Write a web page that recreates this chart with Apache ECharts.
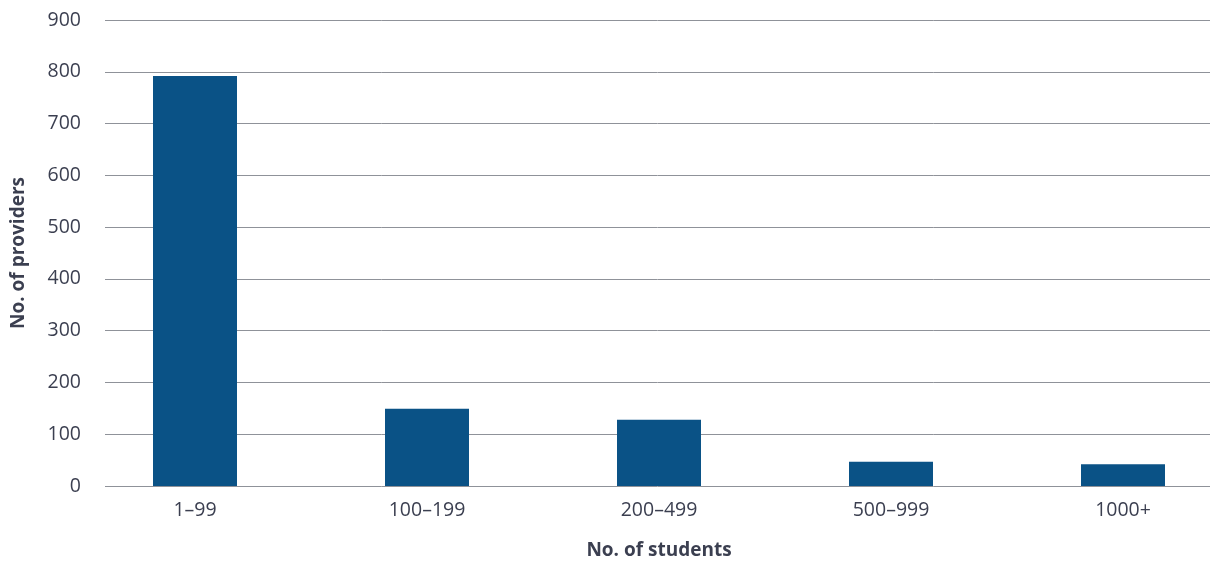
<!DOCTYPE html>
<html>
<head>
<meta charset="utf-8">
<script src="https://cdn.jsdelivr.net/npm/echarts@6/dist/echarts.min.js"></script>
<style>
  html, body { margin: 0; padding: 0; background: #ffffff; }
  #chart { width: 1210px; height: 563px; }
</style>
</head>
<body>
<div id="chart"></div>
<script>
// Providers grouped by number of enrolled students
const categories = ['1–99', '100–199', '200–499', '500–999', '1000+'];
const providers = [792, 149, 128, 47, 42];
const yTicks = { min: 0, max: 900, interval: 100 };

const textColor = '#3b3f50';
const fontFamily = '"Open Sans", sans-serif';

const chart = echarts.init(document.getElementById('chart'));
chart.setOption({
  animation: false,
  grid: [
    // bars and category labels (bands run a little past the right edge)
    { left: 79, width: 1160, top: 20, bottom: 77, outerBoundsMode: 'none' },
    // gridlines and value labels
    { left: 105, right: 0, top: 20, bottom: 77, outerBoundsMode: 'none' }
  ],
  xAxis: [
    {
      type: 'category',
      gridIndex: 0,
      data: categories,
      axisLine: { show: false },
      axisTick: { show: false },
      axisLabel: { color: textColor, fontSize: 19.5, fontFamily, margin: 14 },
      name: 'No. of students',
      nameLocation: 'middle',
      nameGap: 55,
      nameMoveOverlap: false,
      nameTextStyle: { color: textColor, fontSize: 19, fontWeight: 700, fontFamily }
    },
    {
      type: 'value',
      gridIndex: 1,
      show: false
    }
  ],
  yAxis: [
    {
      type: 'value',
      gridIndex: 0,
      min: yTicks.min, max: yTicks.max, interval: yTicks.interval,
      axisLine: { show: false },
      axisTick: { show: false },
      axisLabel: { show: false },
      splitLine: { show: false }
    },
    {
      type: 'value',
      gridIndex: 1,
      min: yTicks.min, max: yTicks.max, interval: yTicks.interval,
      axisLine: { show: false },
      axisTick: { show: false },
      axisLabel: { color: textColor, fontSize: 19.5, fontFamily, margin: 24 },
      splitLine: { lineStyle: { color: '#8f9299', width: 1 } },
      name: 'No. of providers',
      nameLocation: 'middle',
      nameGap: 77,
      nameRotate: 90,
      nameMoveOverlap: false,
      nameTextStyle: { color: textColor, fontSize: 19, fontWeight: 700, fontFamily }
    }
  ],
  series: [
    {
      type: 'bar',
      xAxisIndex: 0,
      yAxisIndex: 0,
      data: providers,
      barWidth: 84,
      itemStyle: { color: '#0a5286' },
      z: 3
    }
  ]
});
</script>
</body>
</html>
